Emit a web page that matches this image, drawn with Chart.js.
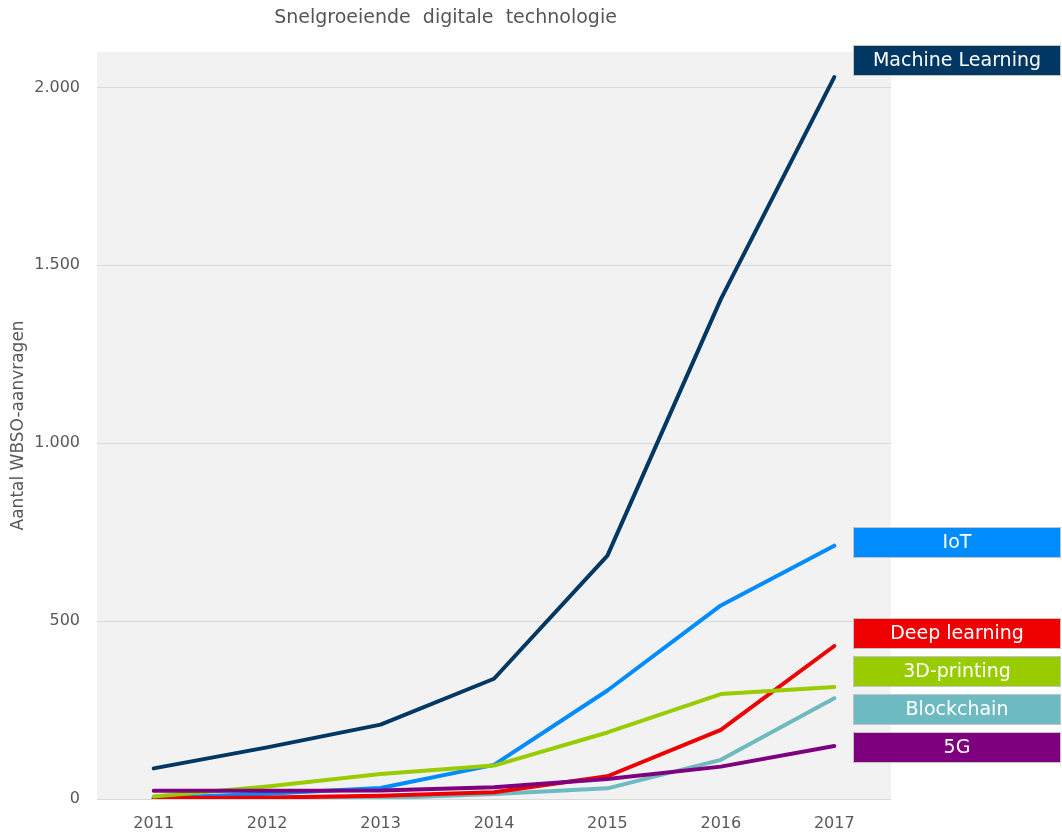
<!DOCTYPE html>
<html>
<head>
<meta charset="utf-8">
<script src="https://cdn.jsdelivr.net/npm/chart.js@4/dist/chart.umd.min.js"></script>
<style>
  html, body { margin: 0; padding: 0; background: #ffffff; }
  #wrap { width: 1062px; height: 832px; position: relative; }
</style>
</head>
<body>
<div id="wrap"><canvas id="c" width="1062" height="832"></canvas></div>
<script>
// ---- data ----
const years = ['2011', '2012', '2013', '2014', '2015', '2016', '2017'];
const machineLearning = [86, 145, 209, 338, 684, 1405, 2029];
const iot             = [3, 15, 31, 96, 305, 544, 712];
const deepLearning    = [2, 4, 9, 19, 64, 194, 430];
const printing3D      = [7, 35, 70, 94, 187, 295, 315];
const blockchain      = [0, 1, 2, 14, 30, 110, 283];
const fiveG           = [23, 23, 24, 33, 56, 91, 149];
const yTicks = [0, 500, 1000, 1500, 2000];

const seriesNames  = ['Machine Learning', '5G', '3D-printing', 'Deep learning', 'IoT', 'Blockchain'];
const seriesValues = [machineLearning, fiveG, printing3D, deepLearning, iot, blockchain];
const seriesColors = ['#003763', '#7f007f', '#99cc00', '#ee0000', '#008cff', '#6dbbc1'];

const fmt = v => String(v).replace(/\B(?=(\d{3})+(?!\d))/g, '.');

const plotBg = {
  id: 'plotBg',
  beforeDraw(chart) {
    const {ctx, chartArea: a} = chart;
    ctx.save();
    ctx.fillStyle = '#f2f2f2';
    ctx.fillRect(a.left, a.top, a.right - a.left, a.bottom - a.top);
    ctx.restore();
  }
};

const endLabels = {
  id: 'endLabels',
  afterDraw(chart, args, opts) {
    const {ctx} = chart;
    const xs = chart.scales.x, ys = chart.scales.y;
    const items = chart.data.datasets.map((ds, i) => {
      const last = ds.data.length - 1;
      const nudge = (opts.nudge && opts.nudge[ds.label]) || 0;
      return {
        label: ds.label,
        color: ds.borderColor,
        x: xs.getPixelForValue(last),
        want: ys.getPixelForValue(ds.data[last]) - 4 + nudge
      };
    }).sort((a, b) => a.want - b.want);
    // collision avoidance: merge into clusters with minimum spacing
    const gap = opts.gap;
    let clusters = items.map(it => ({items: [it], center: it.want}));
    let changed = true;
    const top = c => c.center - (c.items.length - 1) * gap / 2;
    const bottom = c => c.center + (c.items.length - 1) * gap / 2;
    while (changed) {
      changed = false;
      for (let i = 0; i < clusters.length - 1; i++) {
        const a = clusters[i], b = clusters[i + 1];
        if (top(b) - bottom(a) < gap) {
          const merged = a.items.concat(b.items);
          const mean = merged.reduce((s, it) => s + it.want, 0) / merged.length;
          clusters.splice(i, 2, {items: merged, center: mean});
          changed = true;
          break;
        }
      }
    }
    ctx.save();
    ctx.font = opts.font;
    ctx.textAlign = 'center';
    ctx.textBaseline = 'middle';
    clusters.forEach(c => {
      c.items.forEach((it, k) => {
        const cy = top(c) + k * gap;
        const bx = Math.round(it.x + opts.offsetX);
        const by = Math.round(cy - opts.boxH / 2) + 0.5;
        ctx.fillStyle = it.color;
        ctx.fillRect(bx, by, opts.boxW, opts.boxH);
        ctx.strokeStyle = '#c4c4c4';
        ctx.lineWidth = 1;
        ctx.strokeRect(bx + 0.5, by, opts.boxW - 1, opts.boxH);
        ctx.fillStyle = '#ffffff';
        ctx.fillText(it.label, bx + opts.boxW / 2, by + opts.boxH / 2 + 1);
      });
    });
    ctx.restore();
  }
};

new Chart(document.getElementById('c'), {
  type: 'line',
  data: {
    labels: years,
    datasets: seriesNames.map((n, i) => ({
      label: n,
      data: seriesValues[i],
      borderColor: seriesColors[i],
      backgroundColor: seriesColors[i],
      borderWidth: 4,
      pointRadius: 0,
      pointHoverRadius: 0,
      tension: 0,
      borderCapStyle: 'round',
      borderJoinStyle: 'round',
      fill: false
    }))
  },
  options: {
    responsive: false,
    animation: false,
    events: [],
    layout: { padding: { left: 0, right: 171, top: 0, bottom: 0 } },
    plugins: {
      legend: { display: false },
      tooltip: { enabled: false },
      title: {
        display: true,
        text: 'Snelgroeiende  digitale  technologie',
        color: '#555555',
        font: { family: 'DejaVu Sans', size: 19, weight: 'normal', lineHeight: 1.2 },
        padding: { top: 7, bottom: 22 }
      },
      endLabels: {
        gap: 38,
        offsetX: 19,
        boxW: 208,
        boxH: 30,
        font: '19px "DejaVu Sans"',
        nudge: { 'Machine Learning': -13 }
      }
    },
    scales: {
      x: {
        offset: true,
        grid: { display: false, drawTicks: false },
        border: { display: false },
        ticks: {
          color: '#595959',
          font: { family: 'DejaVu Sans', size: 16 },
          padding: 15,
          maxRotation: 0
        },
        afterFit(s) { s.height = 33; }
      },
      y: {
        min: 0,
        max: 2100,
        grid: { color: '#d9d9d9', lineWidth: 1, drawTicks: false },
        border: { display: false },
        afterBuildTicks(s) { s.ticks = yTicks.map(v => ({ value: v })); },
        ticks: {
          color: '#595959',
          font: { family: 'DejaVu Sans', size: 16 },
          padding: 17,
          callback: v => fmt(v)
        },
        title: {
          display: true,
          text: 'Aantal WBSO-aanvragen',
          color: '#595959',
          font: { family: 'DejaVu Sans', size: 17 },
          padding: { top: 8, bottom: 0 }
        },
        afterFit(s) { s.width = 97; }
      }
    }
  },
  plugins: [plotBg, endLabels]
});
</script>
</body>
</html>
